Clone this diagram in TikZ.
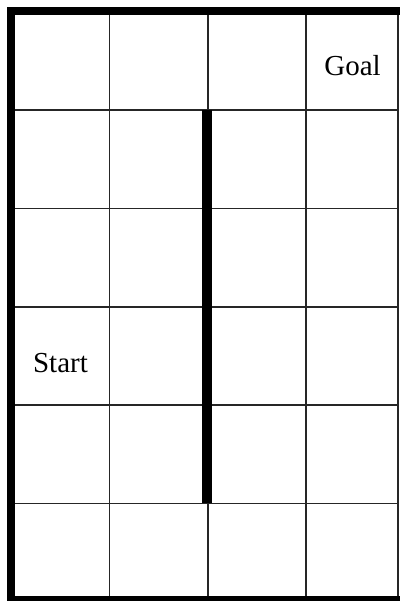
\documentclass[tikz,border=0pt]{standalone}
\usepackage{fontspec}
\setmainfont{Liberation Serif}
\begin{document}
\begin{tikzpicture}[x=1pt,y=-1pt,
 gridline/.style={line width=1.6pt, black!85},
 border/.style={line width=8pt, black, line join=miter},
 wallline/.style={line width=10.5pt, black},
 celltext/.style={font=\fontsize{29}{30}\selectfont, inner sep=0pt, anchor=base}]
\useasboundingbox (0,0) rectangle (399,601);
\fill[white] (0,0) rectangle (399,601);
\foreach \x in {109.5,207.7,305.7,398} \draw[gridline] (\x,11) -- (\x,601);
\foreach \y in {110,208.5,306.8,405,503.3} \draw[gridline] (11,\y) -- (399,\y);
\draw[border] (11,605) -- (11,11) -- (403,11);
\draw[border] (7,600) -- (403,600);
\draw[wallline] (207,110) -- (207,503);
\node[celltext] (start) at (60.5,372.5) {Start};
\node[celltext] (goal) at (352.5,76) {Goal};
\end{tikzpicture}
\end{document}
